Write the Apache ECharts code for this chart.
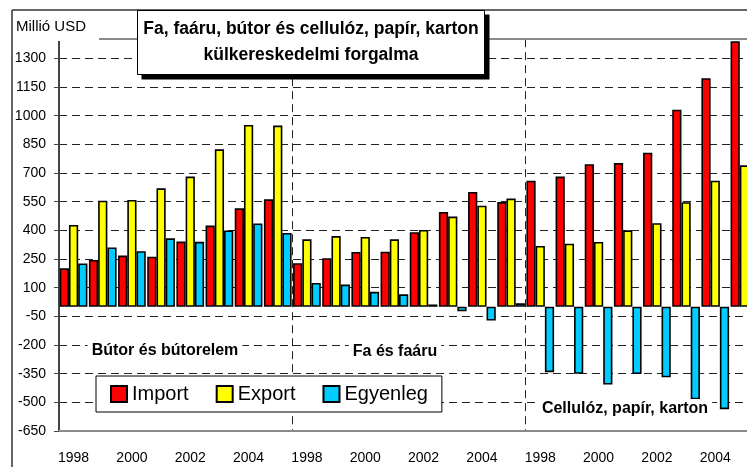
<!DOCTYPE html>
<html>
<head>
<meta charset="utf-8">
<script src="https://cdn.jsdelivr.net/npm/echarts@6/dist/echarts.min.js"></script>
<style>
  html, body { margin: 0; padding: 0; background: #fff; }
  #chart { width: 747px; height: 467px; }
</style>
</head>
<body>
<div id="chart"></div>
<script>
// évek, három termékcsoport egymás után
const years = ['1998', '1999', '2000', '2001', '2002', '2003', '2004', '2005'];
const groupNames = ['Bútor és bútorelem', 'Fa és faáru', 'Cellulóz, papír, karton'];

// Bútor és bútorelem
const butorImport = [201, 245, 268, 262, 341, 425, 515, 562];
const butorExport = [428, 555, 559, 620, 681, 824, 951, 948];
const butorBalance = [227, 310, 291, 358, 340, 399, 436, 386];

// Fa és faáru
const faImport = [228, 254, 287, 288, 390, 496, 601, 548];
const faExport = [353, 370, 365, 353, 402, 472, 529, 566];
const faBalance = [125, 116, 78, 65, 12, -24, -72, 18];

// Cellulóz, papír, karton
const cellImport = [660, 681, 746, 752, 806, 1031, 1196, 1389];
const cellExport = [318, 330, 339, 400, 437, 547, 660, 740];
const cellBalance = [-342, -351, -407, -352, -369, -484, -536, -649];

const categories = years.concat(years, years);
const importData = butorImport.concat(faImport, cellImport);
const exportData = butorExport.concat(faExport, cellExport);
const balanceData = butorBalance.concat(faBalance, cellBalance);

const font = "'Liberation Sans', Arial, sans-serif";

var chart = echarts.init(document.getElementById('chart'));

function barSeries(name, color, data) {
  return {
    name: name,
    type: 'bar',
    data: data,
    barGap: '0%',
    barCategoryGap: '5%',
    itemStyle: {
      color: color,
      borderColor: '#000',
      borderWidth: 1.6
    }
  };
}

var option = {
  animation: false,
  backgroundColor: '#fff',
  textStyle: { fontFamily: font },
  grid: {
    left: 59,
    width: 700,
    top: 39.2,
    bottom: 36,
    containLabel: false,
    outerBoundsMode: 'none'
  },
  legend: {
    left: 96,
    top: 376,
    orient: 'horizontal',
    icon: 'rect',
    itemWidth: 16,
    itemHeight: 16,
    itemGap: 27,
    padding: [8, 14, 8, 14],
    borderColor: '#000',
    borderWidth: 1,
    backgroundColor: '#fff',
    textStyle: { fontSize: 20, color: '#000', fontFamily: font },
    data: ['Import', 'Export', 'Egyenleg']
  },
  xAxis: {
    type: 'category',
    data: categories,
    position: 'bottom',
    axisLine: { onZero: false, lineStyle: { color: '#8a8a8a', width: 2 } },
    axisTick: { show: false },
    axisLabel: {
      interval: 1,
      margin: 20,
      fontSize: 14,
      color: '#000',
      fontFamily: font
    },
    splitLine: {
      show: true,
      interval: function (i) { return i === 8 || i === 16; },
      lineStyle: { color: '#222', width: 1, type: [8, 5] }
    }
  },
  yAxis: {
    type: 'value',
    min: -650,
    max: 1400,
    interval: 150,
    axisLine: { show: true, lineStyle: { color: '#444', width: 2 } },
    axisTick: { show: true, length: 5, lineStyle: { color: '#444' } },
    axisLabel: {
      showMaxLabel: false,
      margin: 13,
      fontSize: 14,
      color: '#000',
      fontFamily: font,
      formatter: function (v) { return String(v); }
    },
    splitLine: {
      show: true,
      showMaxLine: false,
      showMinLine: false,
      lineStyle: { color: '#222', width: 1, type: [8, 5] }
    }
  },
  graphic: [
    // keret
    { type: 'line', z: 50, shape: { x1: 12, y1: 10, x2: 747, y2: 10 }, style: { stroke: '#333', lineWidth: 1.5 } },
    { type: 'line', z: 50, shape: { x1: 12, y1: 10, x2: 12, y2: 467 }, style: { stroke: '#333', lineWidth: 1.5 } },
    { type: 'rect', z: 50, shape: { x: 13, y: 11, width: 86, height: 30 }, style: { fill: '#fff' } },
    { type: 'line', z: 50, shape: { x1: 99, y1: 39, x2: 747, y2: 39 }, style: { stroke: '#8a8a8a', lineWidth: 2 } },
    { type: 'text', z: 51, style: { text: 'Millió USD', x: 16, y: 27, textVerticalAlign: 'middle', font: '15px ' + font, fill: '#000' } },
    // cím doboz árnyékkal
    { type: 'rect', z: 52, shape: { x: 141.5, y: 14.5, width: 348, height: 65 }, style: { fill: '#000' } },
    { type: 'rect', z: 53, shape: { x: 137.5, y: 10.5, width: 347, height: 64 }, style: { fill: '#fff', stroke: '#000', lineWidth: 1 } },
    { type: 'text', z: 54, style: { text: 'Fa, faáru, bútor és cellulóz, papír, karton', x: 311, y: 29, textAlign: 'center', textVerticalAlign: 'middle', font: 'bold 17.5px ' + font, fill: '#000' } },
    { type: 'text', z: 54, style: { text: 'külkereskedelmi forgalma', x: 311, y: 55, textAlign: 'center', textVerticalAlign: 'middle', font: 'bold 17.5px ' + font, fill: '#000' } },
    // csoport feliratok
    { type: 'text', z: 40, style: { text: groupNames[0], x: 165, y: 351, textAlign: 'center', textVerticalAlign: 'middle', font: 'bold 16px ' + font, fill: '#000', backgroundColor: '#fff', padding: [2, 4] } },
    { type: 'text', z: 40, style: { text: groupNames[1], x: 395, y: 352, textAlign: 'center', textVerticalAlign: 'middle', font: 'bold 16px ' + font, fill: '#000', backgroundColor: '#fff', padding: [2, 4] } },
    { type: 'text', z: 40, style: { text: groupNames[2], x: 625, y: 409, textAlign: 'center', textVerticalAlign: 'middle', font: 'bold 16px ' + font, fill: '#000', backgroundColor: '#fff', padding: [2, 4] } }
  ],
  series: [
    barSeries('Import', '#ff0000', importData),
    barSeries('Export', '#ffff00', exportData),
    barSeries('Egyenleg', '#00ccff', balanceData)
  ]
};

chart.setOption(option);
</script>
</body>
</html>
